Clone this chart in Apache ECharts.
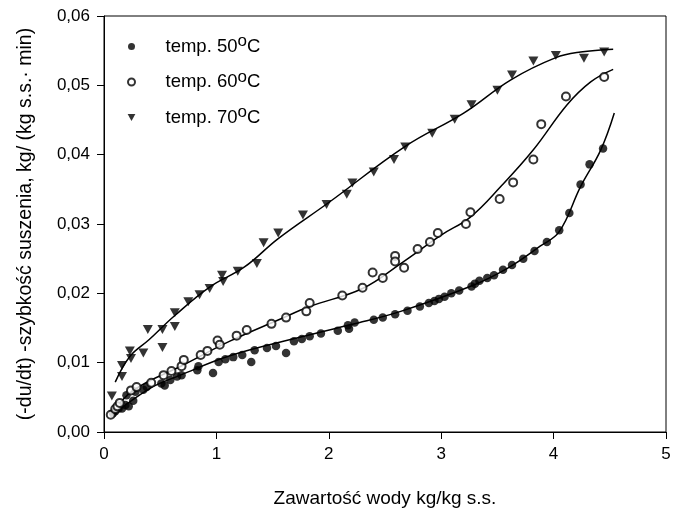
<!DOCTYPE html>
<html>
<head>
<meta charset="utf-8">
<script src="https://cdn.jsdelivr.net/npm/echarts@6/dist/echarts.min.js"></script>
<style>
  html, body { margin: 0; padding: 0; background: #fff; }
  #chart { width: 687px; height: 510px; }
</style>
</head>
<body>
<div id="chart"></div>
<script>
// measured points, 50 C
var x50 = [0.08,0.10,0.13,0.16,0.19,0.20,0.22,0.26,0.28,0.35,0.38,0.51,0.54,0.59,0.65,0.69,0.83,0.84,0.97,1.02,1.08,1.15,1.23,1.31,1.34,1.45,1.53,1.62,1.69,1.76,1.83,1.93,2.08,2.17,2.18,2.23,2.40,2.48,2.59,2.70,2.81,2.89,2.94,2.98,3.03,3.09,3.16,3.27,3.30,3.34,3.41,3.47,3.55,3.63,3.73,3.83,3.94,4.05,4.14,4.24,4.32,4.44];
var y50 = [0.0027,0.0030,0.0034,0.0034,0.0039,0.0053,0.0037,0.0045,0.0058,0.0061,0.0065,0.0070,0.0067,0.0075,0.0080,0.0082,0.0089,0.0095,0.0085,0.0101,0.0105,0.0108,0.0111,0.0101,0.0118,0.0121,0.0124,0.0114,0.0131,0.0134,0.0138,0.0142,0.0146,0.0154,0.0149,0.0158,0.0162,0.0165,0.0170,0.0175,0.0181,0.0186,0.0189,0.0192,0.0195,0.0200,0.0204,0.0210,0.0214,0.0218,0.0222,0.0226,0.0234,0.0241,0.0250,0.0261,0.0274,0.0291,0.0316,0.0357,0.0386,0.0409];

// measured points, 60 C
var x60 = [0.06,0.10,0.12,0.14,0.24,0.29,0.42,0.53,0.60,0.69,0.71,0.86,0.92,1.01,1.03,1.18,1.27,1.49,1.62,1.80,1.83,2.12,2.30,2.39,2.48,2.59,2.59,2.67,2.79,2.90,2.97,3.22,3.26,3.52,3.64,3.82,3.89,4.11,4.45];
var y60 = [0.0025,0.0033,0.0037,0.0042,0.0060,0.0065,0.0071,0.0082,0.0088,0.0095,0.0104,0.0111,0.0117,0.0132,0.0126,0.0139,0.0147,0.0156,0.0165,0.0174,0.0186,0.0197,0.0208,0.0230,0.0222,0.0254,0.0246,0.0237,0.0264,0.0274,0.0287,0.0300,0.0317,0.0336,0.0360,0.0393,0.0444,0.0484,0.0512];

// measured points, 70 C
var x70 = [0.07,0.16,0.16,0.23,0.24,0.35,0.39,0.52,0.52,0.63,0.63,0.75,0.85,0.94,1.05,1.06,1.19,1.36,1.42,1.55,1.77,1.98,2.16,2.21,2.40,2.58,2.68,2.92,3.12,3.27,3.50,3.63,3.82,4.02,4.27,4.45];
var y70 = [0.0052,0.0080,0.0096,0.0117,0.0106,0.0114,0.0148,0.0122,0.0148,0.0152,0.0172,0.0188,0.0198,0.0207,0.0226,0.0217,0.0232,0.0243,0.0273,0.0287,0.0313,0.0328,0.0343,0.0359,0.0375,0.0393,0.0411,0.0431,0.0451,0.0472,0.0493,0.0515,0.0535,0.0543,0.0539,0.0548];

// fitted curves
var fitX50 = [0.08,0.41,0.68,1.12,1.75,2.20,2.64,3.29,3.60,3.88,4.05,4.24,4.42,4.54];
var fitY50 = [0.0025,0.0063,0.0082,0.0110,0.0137,0.0155,0.0174,0.0212,0.0237,0.0268,0.0289,0.0354,0.0407,0.0460];
var fitX60 = [0.07,0.26,0.71,1.12,1.57,1.83,2.30,2.64,3.00,3.26,3.53,3.82,4.12,4.33,4.53];
var fitY60 = [0.0026,0.0060,0.0097,0.0131,0.0163,0.0181,0.0207,0.0243,0.0284,0.0310,0.0354,0.0407,0.0472,0.0505,0.0523];
var fitX70 = [0.10,0.23,0.40,0.63,0.94,1.25,1.55,2.00,2.68,3.20,3.62,4.02,4.24,4.53];
var fitY70 = [0.0072,0.0109,0.0133,0.0168,0.0209,0.0238,0.0279,0.0331,0.0412,0.0460,0.0508,0.0540,0.0548,0.0552];

var names = ['temp. 50°C', 'temp. 60°C', 'temp. 70°C'];
var xTicks = [0, 1, 2, 3, 4, 5];

function zip(a, b) {
  return a.map(function (v, i) { return [v, b[i]]; });
}

var font = 'Arial, "Liberation Sans", sans-serif';
var downTri = 'path://M0,0L10,0L5,9Z';

var chart = echarts.init(document.getElementById('chart'));

function fitLine(xs, ys) {
  return {
    type: 'line',
    data: zip(xs, ys),
    smooth: 0.4,
    showSymbol: false,
    symbol: 'none',
    silent: true,
    lineStyle: { color: '#000', width: 1.5 },
    z: 2
  };
}

var option = {
  animation: false,
  backgroundColor: '#fff',
  grid: {
    left: 104, right: 21, top: 16, bottom: 78,
    outerBoundsMode: 'none',
    show: true, borderColor: '#000', borderWidth: 1
  },
  legend: {
    orient: 'vertical',
    left: 127, top: 33,
    padding: 0,
    itemWidth: 8, itemHeight: 7,
    itemGap: 12,
    selectedMode: false,
    data: names,
    formatter: function (n) { return n.replace('°', '{s|o}'); },
    textStyle: {
      fontFamily: font, fontSize: 18.5, color: '#000', lineHeight: 20,
      padding: [0, 0, 0, 25],
      rich: {
        s: { fontFamily: font, fontSize: 17, color: '#000', padding: [0, 0, 10, 0] }
      }
    }
  },
  xAxis: {
    type: 'value',
    min: 0, max: 5, interval: 1,
    name: 'Zawartość wody kg/kg s.s.',
    nameLocation: 'middle',
    nameGap: 57,
    nameTextStyle: { fontFamily: font, fontSize: 19, color: '#000' },
    axisLine: { onZero: false, lineStyle: { color: '#000', width: 1 } },
    axisTick: { inside: false, length: 7, lineStyle: { color: '#000' } },
    axisLabel: {
      margin: 14, fontFamily: font, fontSize: 17, color: '#000',
      formatter: function (v) { return xTicks.indexOf(v) >= 0 ? String(v) : ''; }
    },
    splitLine: { show: false }
  },
  yAxis: {
    type: 'value',
    min: 0, max: 0.06, interval: 0.01,
    name: '(-du/dt) -szybkość suszenia, kg/ (kg s.s.· min)',
    nameLocation: 'middle',
    nameGap: 68,
    nameTextStyle: { fontFamily: font, fontSize: 19.5, color: '#000' },
    axisLine: { onZero: false, lineStyle: { color: '#000', width: 1 } },
    axisTick: { inside: false, length: 7, lineStyle: { color: '#000' } },
    axisLabel: {
      margin: 14, fontFamily: font, fontSize: 17, color: '#000',
      formatter: function (v) { return v.toFixed(2).replace('.', ','); }
    },
    splitLine: { show: false }
  },
  series: [
    fitLine(fitX50, fitY50),
    fitLine(fitX60, fitY60),
    fitLine(fitX70, fitY70),
    {
      name: names[0], type: 'scatter', data: zip(x50, y50),
      symbol: 'circle', symbolSize: 8.5,
      itemStyle: { color: '#000' }, z: 3
    },
    {
      name: names[1], type: 'scatter', data: zip(x60, y60),
      symbol: 'emptyCircle', symbolSize: 8,
      itemStyle: { color: '#000', borderColor: '#000', borderWidth: 1 }, z: 3
    },
    {
      name: names[2], type: 'scatter', data: zip(x70, y70),
      symbol: downTri, symbolSize: [10, 9],
      itemStyle: { color: '#000' }, z: 3
    }
  ]
};

chart.setOption(option);
</script>
</body>
</html>
